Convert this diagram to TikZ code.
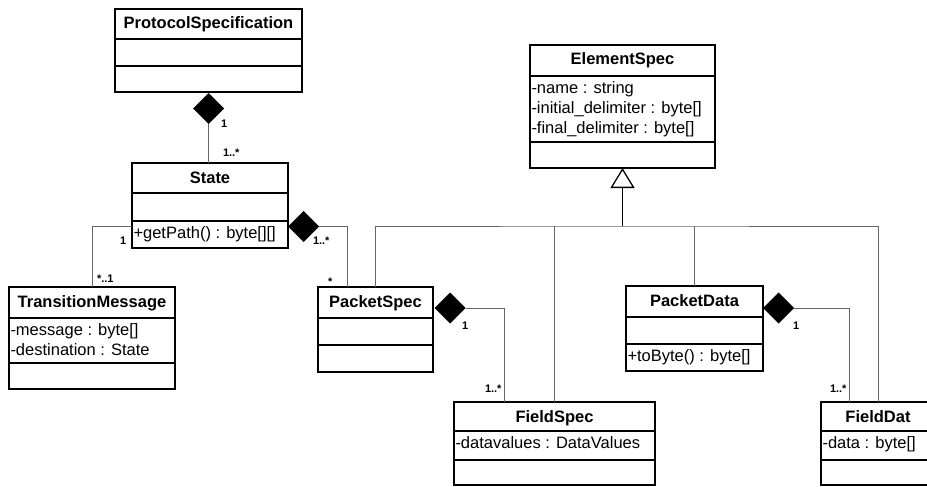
\documentclass[tikz,border=0pt]{standalone}
\usepackage{fontspec}
\setmainfont{Liberation Sans}
\usetikzlibrary{positioning,shapes.geometric,arrows.meta}
\begin{document}
\begin{tikzpicture}[x=1pt, y=-1pt,
  every node/.style={inner sep=0pt, outer sep=0pt},
  classbox/.style={draw=black, line width=1.3pt, rectangle, anchor=north west},
  classname/.style={font={\fontsize{16.5}{20}\selectfont\bfseries}, anchor=base},
  member/.style={font={\fontsize{16.5}{20}\selectfont}, anchor=base west},
  mult/.style={font={\fontsize{11}{13}\selectfont\bfseries}, anchor=base west},
  compo/.style={diamond, fill=black, aspect=1, minimum width=31pt, minimum height=31pt},
  assoc/.style={draw=black!60, line width=1pt},
  genline/.style={draw=black, line width=1.3pt, -{Triangle[open, length=20pt, width=24pt]}}]
\useasboundingbox (0,0) rectangle (927,487);
% classes
\node[classbox, minimum width=187pt, minimum height=83pt] (protocol) at (115,9) {};
\node[classbox, minimum width=156pt, minimum height=85pt] (state) at (132,163) {};
\node[classbox, minimum width=166pt, minimum height=102pt] (transition) at (9,287) {};
\node[classbox, minimum width=185pt, minimum height=123pt] (element) at (530,45) {};
\node[classbox, minimum width=115pt, minimum height=85pt] (pspec) at (318,287) {};
\node[classbox, minimum width=137pt, minimum height=85pt] (pdata) at (626,286) {};
\node[classbox, minimum width=201pt, minimum height=83pt] (fspec) at (454,402) {};
\node[classbox, minimum width=114pt, minimum height=83pt] (fdat) at (821,402) {};
\foreach \c/\a/\b in {protocol/30/57, state/30/58, transition/31/76, element/31/97,
    pspec/31/58, pdata/31/58, fspec/29/58, fdat/29/58} {
  \draw[line width=1.3pt] ([yshift=-\a pt]\c.north west) -- ([yshift=-\a pt]\c.north east);
  \draw[line width=1.3pt] ([yshift=-\b pt]\c.north west) -- ([yshift=-\b pt]\c.north east);
}
% names
\node[classname] at ([yshift=-20pt]protocol.north) {ProtocolSpecification};
\node[classname] at ([yshift=-20pt]state.north) {State};
\node[classname] at ([yshift=-20pt]transition.north) {TransitionMessage};
\node[classname] at ([yshift=-20pt]element.north) {ElementSpec};
\node[classname] at ([yshift=-20pt]pspec.north) {PacketSpec};
\node[classname] at ([yshift=-20pt]pdata.north) {PacketData};
\node[classname] at ([yshift=-20pt]fspec.north) {FieldSpec};
\node[classname] at ([yshift=-20pt]fdat.north) {FieldDat};
% members
\node[member] at ([xshift=1.5pt,yshift=-75.5pt]state.north west) {+getPath() : byte[][]};
\node[member] at ([xshift=1.5pt,yshift=-48.5pt]transition.north west) {-message : byte[]};
\node[member] at ([xshift=1.5pt,yshift=-68.5pt]transition.north west) {-destination : State};
\node[member] at ([xshift=1.5pt,yshift=-48.5pt]element.north west) {-name : string};
\node[member] at ([xshift=1.5pt,yshift=-68.5pt]element.north west) {-initial\_delimiter : byte[]};
\node[member] at ([xshift=1.5pt,yshift=-88.5pt]element.north west) {-final\_delimiter : byte[]};
\node[member] at ([xshift=1.5pt,yshift=-75.5pt]pdata.north west) {+toByte() : byte[]};
\node[member] at ([xshift=1.5pt,yshift=-46.5pt]fspec.north west) {-datavalues : DataValues};
\node[member] at ([xshift=1.5pt,yshift=-46.5pt]fdat.north west) {-data : byte[]};
% compositions
\node[compo, anchor=north] (protocolC) at ([yshift=-1pt]protocol.south) {};
\node[compo, anchor=west] (stateC) at ([yshift=-21pt]state.east) {};
\node[compo, anchor=west] (pspecC) at ([xshift=1.5pt,yshift=21.5pt]pspec.east) {};
\node[compo, anchor=west] (pdataC) at ([yshift=20.5pt]pdata.east) {};
\draw[assoc] (protocolC.south) -- (protocolC.south |- state.north);
\draw[assoc] (stateC.east) -| ([xshift=29pt]pspec.north west);
\draw[assoc] (pspecC.east) -| ([xshift=50pt]fspec.north west);
\draw[assoc] (pdataC.east) -| ([xshift=28pt]fdat.north west);
% association
\draw[assoc] ([yshift=-21pt]state.west) -| (transition.north);
% generalisation
\coordinate (genbar) at ([yshift=-58pt]element.south);
\draw[assoc] (pspec.north) |- (genbar) -| (fdat.north);
\foreach \c in {fspec, pdata}
  \draw[assoc] (\c.north) -- (\c.north |- genbar);
\draw[genline] (genbar) -- (element.south);
% multiplicities
\node[mult] at (221,127) {1};
\node[mult] at (223,157) {1..*};
\node[mult] at (313,244) {1..*};
\node[mult] at (328,285) {*};
\node[mult] at (120,244) {1};
\node[mult] at (97,282) {*..1};
\node[mult] at (462,329) {1};
\node[mult] at (485,392) {1..*};
\node[mult] at (793,329) {1};
\node[mult] at (830,392) {1..*};
\end{tikzpicture}
\end{document}
